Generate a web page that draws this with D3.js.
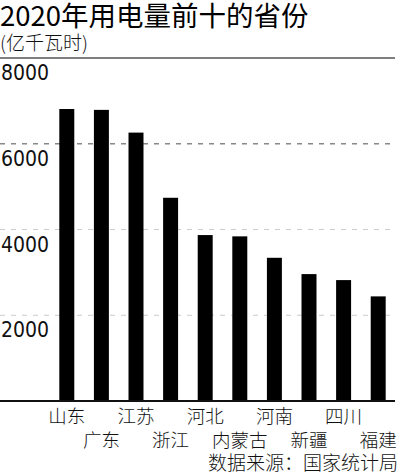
<!DOCTYPE html>
<html><head><meta charset="utf-8">
<script src="https://cdn.jsdelivr.net/npm/d3@7"></script>
<style>html,body{margin:0;padding:0;background:#fff}</style>
</head><body>
<svg id="c" width="400" height="474"></svg>
<script>
const categories = ["山东","广东","江苏","浙江","河北","内蒙古","河南","新疆","四川","福建"];
const values = [6810, 6790, 6260, 4740, 3870, 3840, 3340, 2960, 2820, 2440];
const yTicks = [2000, 4000, 6000, 8000];
const title = "2020年用电量前十的省份";
const unit = "(亿千瓦时)";
const source = "数据来源：国家统计局";

const svg = d3.select("#c");
const cjk = "'Noto Sans CJK SC', sans-serif";
const num = "'DejaVu Sans Condensed', 'DejaVu Sans', sans-serif";

const x = d3.scaleBand().domain(categories).range([49.5, 395.5]).paddingInner(0.567).paddingOuter(0.2835);
const y = d3.scaleLinear().domain([0, 8000]).range([401, 58]);

svg.append("text").attr("x", 0).attr("y", 26).attr("font-family", cjk).attr("font-size", 27.5)
  .attr("fill", "#000").text(title);
svg.append("text").attr("x", 0).attr("y", 50).attr("font-family", cjk).attr("font-size", 19)
  .attr("font-weight", 300).attr("fill", "#111").text(unit);

// gridlines
const grid = svg.append("g");
yTicks.forEach(t => {
  const g = grid.append("line").attr("x1", 0).attr("x2", 395)
    .attr("y1", y(t)).attr("y2", y(t));
  if (t === 8000) g.attr("stroke", "#555").attr("stroke-width", 1.5);
  else if (t === 6000) g.attr("stroke", "#888").attr("stroke-width", 1.5).attr("stroke-dasharray", "5,6");
  else g.attr("stroke", "#ccc").attr("stroke-width", 1.2).attr("stroke-dasharray", "5,6");
});

// tick labels
svg.append("g").selectAll("text").data(yTicks).join("text")
  .attr("x", 1).attr("y", d => y(d) + 22)
  .attr("font-family", num).attr("font-size", 21).attr("fill", "#111")
  .text(d => d);

// bars
svg.append("g").selectAll("rect").data(values).join("rect")
  .attr("x", (d, i) => x(categories[i]))
  .attr("width", x.bandwidth())
  .attr("y", d => y(d))
  .attr("height", d => y(0) - y(d))
  .attr("fill", "#000");

// baseline
svg.append("line").attr("x1", 0).attr("x2", 395).attr("y1", y(0)).attr("y2", y(0))
  .attr("stroke", "#111").attr("stroke-width", 2);

// category labels
svg.append("g").selectAll("text").data(categories).join("text")
  .attr("x", d => x(d) + x.bandwidth() / 2)
  .attr("y", (d, i) => i % 2 === 0 ? 423 : 446.5)
  .attr("text-anchor", "middle")
  .attr("font-family", cjk).attr("font-size", 18.5).attr("font-weight", 300).attr("fill", "#111")
  .text(d => d);

svg.append("text").attr("x", 398).attr("y", 469.5).attr("text-anchor", "end")
  .attr("font-family", cjk).attr("font-size", 19).attr("font-weight", 300).attr("fill", "#111").text(source);
</script>
</body></html>
